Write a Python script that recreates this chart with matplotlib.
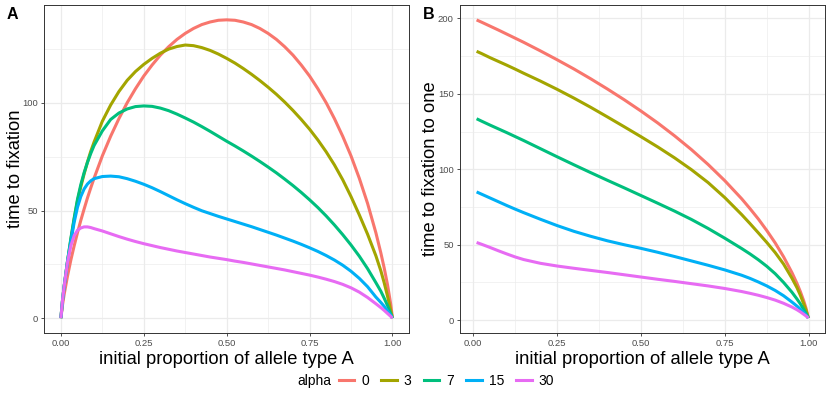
import numpy as np
import matplotlib
matplotlib.use('Agg')
import matplotlib.pyplot as plt
from matplotlib.lines import Line2D

plt.rcParams['font.family'] = ['Liberation Sans', 'DejaVu Sans']

alphas = ['0', '3', '7', '15', '30']
colors = ['#F8766D', '#A3A500', '#00BF7D', '#00B0F6', '#E76BF3']

# panel A: time to fixation (either allele)
p_a = [0, 0.005, 0.01, 0.02, 0.03, 0.04, 0.05, 0.06, 0.07, 0.08, 0.09, 0.1,
       0.125, 0.15, 0.175, 0.2, 0.225, 0.25, 0.275, 0.3, 0.325, 0.35, 0.375, 0.4,
       0.425, 0.45, 0.475, 0.5, 0.525, 0.55, 0.575, 0.6, 0.625, 0.65, 0.675, 0.7,
       0.725, 0.75, 0.775, 0.8, 0.825, 0.85, 0.875, 0.9, 0.925, 0.95, 0.965, 0.975,
       0.985, 0.995, 1.0]
t_a = {
    '0':  [0, 6.3, 11.2, 19.6, 27.0, 33.6, 39.7, 45.4, 50.7, 55.8, 60.5, 65.0,
           75.4, 84.5, 92.7, 100.1, 106.6, 112.5, 117.6, 122.2, 126.1, 129.5, 132.3, 134.6,
           136.4, 137.6, 138.4, 138.6, 138.4, 137.6, 136.4, 134.6, 132.3, 129.5, 126.1, 122.2,
           117.6, 112.5, 106.6, 100.1, 92.7, 84.5, 75.4, 65.0, 53.3, 39.7, 30.3, 23.4,
           15.6, 6.3, 0],
    '3':  [0, 8.5, 15, 26.5, 36.5, 46, 54.5, 61, 67, 72.5, 77.5, 81.8,
           91.5, 99, 105.3, 110.5, 114.6, 117.9, 120.7, 123.1, 125, 126.2, 126.9, 126.6,
           125.7, 124.4, 122.7, 120.7, 118.5, 116, 113.3, 110.4, 107.3, 104, 100.4, 96.5,
           92.3, 87.8, 82.8, 77.3, 71.2, 64.3, 56.5, 48, 39, 29, 22, 16.5,
           10.3, 3.5, 0],
    '7':  [0, 8.5, 15, 26.5, 37, 46.5, 55.2, 62, 67.6, 72.3, 76.5, 80.2,
           87, 92.3, 95.3, 97.2, 98.3, 98.6, 98.4, 97.6, 96.4, 94.8, 93, 91.1,
           89, 86.8, 84.5, 82.2, 80, 77.7, 75.3, 72.8, 70.2, 67.5, 64.6, 61.6,
           58.4, 55, 51.4, 47.5, 43.3, 38.8, 34, 28.8, 23, 16.5, 12.5, 9.3,
           5.9, 2.1, 0],
    '15': [0, 8.5, 15, 26.5, 35.5, 44.5, 51.5, 56.5, 60, 62.3, 63.8, 64.8,
           65.8, 66, 65.7, 64.8, 63.6, 62.2, 60.6, 58.8, 56.9, 55, 53.2, 51.5,
           49.9, 48.6, 47.3, 46.1, 44.9, 43.7, 42.5, 41.2, 39.9, 38.6, 37.2, 35.8,
           34.3, 32.7, 31, 29.1, 27, 24.6, 21.8, 18.5, 14.6, 9.8, 7.3, 5.5,
           3.4, 1.3, 0],
    '30': [0, 8.5, 15, 26, 33.6, 38.3, 40.8, 41.9, 42.4, 42.4, 42.1, 41.6,
           40.5, 39.2, 37.9, 36.7, 35.6, 34.6, 33.7, 32.8, 32, 31.2, 30.5, 29.8,
           29.1, 28.4, 27.8, 27.2, 26.5, 25.9, 25.2, 24.5, 23.8, 23.1, 22.4, 21.6,
           20.8, 20, 19.1, 18.1, 17, 15.7, 14.1, 12.1, 9.6, 6.7, 4.9, 3.6,
           2.2, 0.8, 0],
}

# panel B: time to fixation to one
p_b = [0.01, 0.025, 0.05, 0.075, 0.1, 0.125, 0.15, 0.2, 0.25, 0.3, 0.35, 0.4,
       0.45, 0.5, 0.55, 0.6, 0.65, 0.7, 0.75, 0.8, 0.825, 0.85, 0.875, 0.9,
       0.925, 0.95, 0.965, 0.975, 0.985, 0.992, 0.999]
t_b = {
    '0':  [199.0, 197.5, 194.9, 192.3, 189.6, 186.9, 184.2, 178.5, 172.6, 166.5, 160.0, 153.2,
           146.1, 138.6, 130.7, 122.2, 113.1, 103.2, 92.4, 80.5, 73.9, 67.0, 59.4, 51.2,
           42.0, 31.5, 24.3, 18.9, 12.8, 7.8, 1.4],
    '3':  [178.2, 176.7, 174, 171.5, 169, 166.4, 163.7, 158.5, 153, 147.2, 141.1, 134.7,
           128.2, 121.6, 114.8, 107.6, 99.8, 91.2, 81.2, 70, 64, 57.8, 51.5, 44.8,
           37.2, 27.8, 21.5, 16.5, 10.8, 6.5, 1.4],
    '7':  [133.5, 131.9, 129.3, 126.8, 124.3, 121.7, 119.1, 113.7, 108.3, 103, 97.8, 92.7,
           87.7, 82.6, 77.5, 72.3, 66.8, 60.8, 54.3, 47.5, 43.9, 40, 35.7, 30.8,
           25, 18.5, 14, 10.8, 7.2, 4.4, 1.4],
    '15': [85, 83.5, 81, 78.5, 76, 73.6, 71.3, 66.9, 62.7, 58.9, 55.6, 52.6,
           50, 47.6, 45, 42.2, 39.3, 36.4, 33.3, 29.8, 27.7, 25.3, 22.7, 19.7,
           16.2, 12, 9.3, 7.3, 5, 3.3, 1.4],
    '30': [51.5, 50.3, 48.2, 46, 43.9, 41.9, 40.2, 37.7, 35.9, 34.4, 33, 31.6,
           30.1, 28.6, 27.1, 25.7, 24.2, 22.7, 21, 19, 17.8, 16.5, 15, 13.3,
           11.2, 8.7, 6.9, 5.5, 3.9, 2.8, 1.4],
}

fig = plt.figure(figsize=(8.3, 3.99), dpi=100)
ax1 = fig.add_axes([0.0534, 0.1654, 0.4394, 0.8221])
ax2 = fig.add_axes([0.5542, 0.1654, 0.4398, 0.8221])


def style(ax, yticks, yminor, ylim, xlim, ylabel):
    ax.set_xlim(xlim)
    ax.set_ylim(ylim)
    ax.set_xticks([0, 0.25, 0.5, 0.75, 1.0])
    ax.set_xticklabels(['0.00', '0.25', '0.50', '0.75', '1.00'])
    ax.set_xticks([0.125, 0.375, 0.625, 0.875], minor=True)
    ax.set_yticks(yticks)
    ax.set_yticks(yminor, minor=True)
    ax.grid(which='major', color='#EBEBEB', lw=0.9)
    ax.grid(which='minor', color='#EBEBEB', lw=0.45)
    ax.set_axisbelow(True)
    ax.tick_params(which='major', length=2.5, width=0.6, color='#333333',
                   labelsize=6.8, labelcolor='#4D4D4D', pad=2)
    ax.tick_params(which='minor', length=0)
    for s in ax.spines.values():
        s.set_color('#333333')
        s.set_linewidth(0.7)
    ax.set_xlabel('initial proportion of allele type A', fontsize=13.2, labelpad=2)
    ax.set_ylabel(ylabel, fontsize=13.2, labelpad=-1)


for a, c in zip(alphas, colors):
    ax1.plot(p_a, t_a[a], color=c, lw=2.2, solid_capstyle='butt', solid_joinstyle='round')
    ax2.plot(p_b, t_b[a], color=c, lw=2.2, solid_capstyle='butt', solid_joinstyle='round')

style(ax1, [0, 50, 100], [25, 75, 125], (-6.9, 145.5), (-0.05, 1.05), 'time to fixation')
style(ax2, [0, 50, 100, 150, 200], [25, 75, 125, 175], (-8.5, 208.9), (-0.0395, 1.0485),
      'time to fixation to one')

fig.text(7 / 830, 1 - 14.5 / 399, 'A', fontsize=11.5, fontweight='bold', va='center', ha='left')
fig.text(423 / 830, 1 - 14.5 / 399, 'B', fontsize=11.5, fontweight='bold', va='center', ha='left')

# legend along the bottom
handles = [Line2D([], [], color=c, lw=2.2) for c in colors]
fig.text(297 / 830, 1 - 381 / 399, 'alpha', fontsize=10, va='center', ha='left')
fig.legend(handles, alphas, ncol=5, frameon=False, fontsize=10,
           loc='center left', bbox_to_anchor=(332 / 830, 1 - 381 / 399),
           handlelength=1.1, handletextpad=0.5, columnspacing=0.9, borderpad=0)

fig.savefig('out.png', dpi=100)
